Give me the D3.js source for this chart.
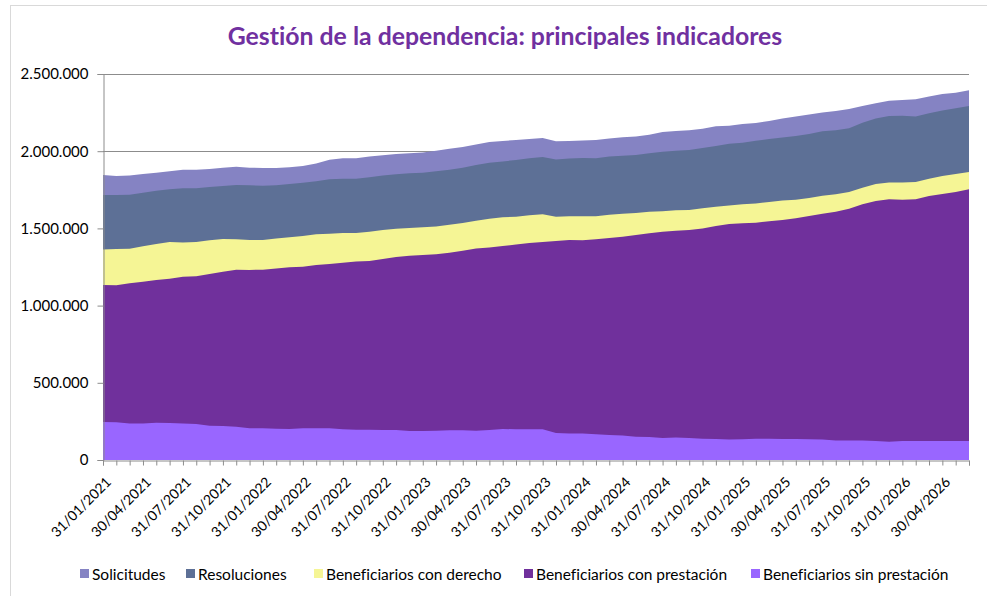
<!DOCTYPE html>
<html>
<head>
<meta charset="utf-8">
<script src="https://cdn.jsdelivr.net/npm/d3@7"></script>
<style>
  body { margin: 0; background: #fff; }
  svg { display: block; font-family: Lato, "Open Sans", sans-serif; font-variant-ligatures: none; }
</style>
</head>
<body>
<svg id="chart" width="987" height="596"></svg>
<script>
// monthly values, 31/01/2021 .. 30/06/2026
const solicitudes = [1846000,1839000,1842000,1852000,1861000,1870000,1880000,1880000,1885000,1893000,
  1900000,1893000,1891000,1891000,1896000,1904000,1921000,1945000,1954000,1954000,
  1965000,1973000,1982000,1986000,1991000,2003000,2016000,2027000,2044000,2060000,
  2066000,2073000,2079000,2086000,2064000,2066000,2070000,2073000,2083000,2090000,
  2096000,2107000,2124000,2131000,2135000,2146000,2161000,2165000,2176000,2183000,
  2196000,2211000,2224000,2237000,2250000,2260000,2273000,2293000,2310000,2327000,
  2332000,2336000,2355000,2370000,2379000,2394000];
const resoluciones = [1716000,1716000,1718000,1731000,1744000,1753000,1760000,1760000,1768000,1775000,
  1781000,1779000,1777000,1779000,1788000,1796000,1805000,1818000,1822000,1822000,
  1831000,1842000,1850000,1857000,1861000,1870000,1880000,1893000,1911000,1926000,
  1934000,1943000,1954000,1962000,1947000,1952000,1956000,1954000,1965000,1971000,
  1975000,1986000,1997000,2003000,2008000,2021000,2034000,2049000,2055000,2068000,
  2079000,2088000,2098000,2111000,2129000,2135000,2148000,2185000,2211000,2228000,
  2230000,2224000,2245000,2263000,2278000,2293000];
const conDerecho = [1364000,1367000,1369000,1384000,1399000,1412000,1408000,1412000,1423000,1431000,
  1429000,1425000,1425000,1434000,1442000,1451000,1462000,1466000,1470000,1470000,
  1479000,1490000,1498000,1503000,1507000,1513000,1524000,1535000,1550000,1563000,
  1572000,1576000,1585000,1591000,1576000,1578000,1578000,1578000,1589000,1595000,
  1600000,1608000,1611000,1617000,1619000,1630000,1641000,1649000,1656000,1662000,
  1671000,1680000,1686000,1697000,1712000,1721000,1736000,1764000,1788000,1798000,
  1798000,1801000,1822000,1839000,1852000,1865000];
const conPrestacion = [1133000,1131000,1144000,1155000,1166000,1174000,1187000,1190000,1205000,1220000,
  1233000,1231000,1233000,1241000,1248000,1252000,1263000,1269000,1278000,1285000,
  1289000,1302000,1315000,1323000,1328000,1332000,1343000,1356000,1370000,1377000,
  1386000,1395000,1405000,1412000,1418000,1425000,1423000,1429000,1438000,1446000,
  1457000,1468000,1479000,1485000,1490000,1500000,1516000,1529000,1533000,1537000,
  1546000,1554000,1565000,1580000,1595000,1608000,1628000,1656000,1677000,1688000,
  1686000,1688000,1710000,1723000,1736000,1753000];
const sinPrestacion = [246000,244000,237000,237000,242000,240000,237000,233000,222000,220000,
  216000,205000,205000,203000,201000,205000,205000,205000,199000,196000,
  196000,194000,194000,188000,188000,190000,192000,192000,190000,194000,
  201000,199000,199000,199000,175000,171000,171000,166000,162000,158000,
  151000,149000,142000,145000,142000,138000,136000,132000,134000,138000,
  138000,136000,136000,134000,132000,127000,127000,127000,123000,119000,
  123000,123000,123000,123000,123000,123000];

const tickLabels = ["31/01/2021","30/04/2021","31/07/2021","31/10/2021","31/01/2022","30/04/2022",
  "31/07/2022","31/10/2022","31/01/2023","30/04/2023","31/07/2023","31/10/2023","31/01/2024",
  "30/04/2024","31/07/2024","31/10/2024","31/01/2025","30/04/2025","31/07/2025","31/10/2025",
  "31/01/2026","30/04/2026"];
const yTicks = [0, 500000, 1000000, 1500000, 2000000, 2500000];

// drawn in this order, each from zero (not stacked)
const series = [
  { name: "Solicitudes", values: solicitudes, color: "#8583c3" },
  { name: "Resoluciones", values: resoluciones, color: "#5d7096" },
  { name: "Beneficiarios con derecho", values: conDerecho, color: "#f5f595" },
  { name: "Beneficiarios con prestación", values: conPrestacion, color: "#70309c" },
  { name: "Beneficiarios sin prestación", values: sinPrestacion, color: "#9966ff" }
];

const months = d3.range(solicitudes.length);

const svg = d3.select("#chart");
const plot = { left: 103, right: 969, top: 74, bottom: 460 };

const x = d3.scalePoint().domain(months).range([plot.left, plot.right]);
const y = d3.scaleLinear().domain([0, 2500000]).range([plot.bottom, plot.top]);

const es = d3.formatLocale({ decimal: ",", thousands: ".", grouping: [3], currency: ["", "€"] });
const fmt = es.format(",");

// chart frame
svg.append("rect")
  .attr("x", 10.5).attr("y", 5.5)
  .attr("width", 1000).attr("height", 620)
  .attr("fill", "none")
  .attr("stroke", "#d9d9d9");

svg.append("text")
  .attr("x", 505).attr("y", 45)
  .attr("text-anchor", "middle")
  .attr("font-size", 24.8)
  .attr("font-weight", "bold")
  .attr("fill", "#7030a0")
  .text("Gestión de la dependencia: principales indicadores");

// gridlines
svg.append("g")
  .selectAll("line")
  .data(yTicks.filter(d => d > 0))
  .join("line")
  .attr("x1", plot.left).attr("x2", plot.right)
  .attr("y1", d => Math.round(y(d)) + 0.5)
  .attr("y2", d => Math.round(y(d)) + 0.5)
  .attr("stroke", "#8c8c8c");

const area = d3.area()
  .x((d, i) => x(i))
  .y0(y(0))
  .y1(d => y(d));

svg.append("g")
  .selectAll("path")
  .data(series)
  .join("path")
  .attr("d", d => area(d.values))
  .attr("fill", d => d.color);

const yAxis = svg.append("g")
  .attr("transform", `translate(${plot.left + 0.5},0)`)
  .call(d3.axisLeft(y).tickValues(yTicks).tickSize(6).tickPadding(9).tickFormat(fmt));

const xAxis = svg.append("g")
  .attr("transform", `translate(0,${plot.bottom + 0.5})`)
  .call(d3.axisBottom(x).tickSize(5).tickFormat(""));

[yAxis, xAxis].forEach(g => {
  g.select(".domain").attr("stroke", "#8c8c8c");
  g.selectAll(".tick line").attr("stroke", "#8c8c8c");
});
yAxis.selectAll("text")
  .attr("font-family", "Lato, sans-serif")
  .attr("font-size", 15)
  .attr("fill", "#000");

svg.append("g")
  .selectAll("text")
  .data(tickLabels)
  .join("text")
  .attr("transform", (d, i) => `translate(${x(i * 3) + 9},${plot.bottom + 23}) rotate(-45)`)
  .attr("text-anchor", "end")
  .attr("font-size", 14)
  .attr("fill", "#000")
  .text(d => d);

// legend
const legendX = [80, 186, 314, 524, 751];
const legend = svg.append("g")
  .selectAll("g")
  .data(series)
  .join("g")
  .attr("transform", (d, i) => `translate(${legendX[i]},574)`);
legend.append("rect")
  .attr("x", 0).attr("y", -5)
  .attr("width", 9).attr("height", 9)
  .attr("fill", d => d.color);
legend.append("text")
  .attr("x", 12).attr("y", 5.5)
  .attr("font-size", 15.5)
  .attr("fill", "#000")
  .text(d => d.name);
</script>
</body>
</html>
